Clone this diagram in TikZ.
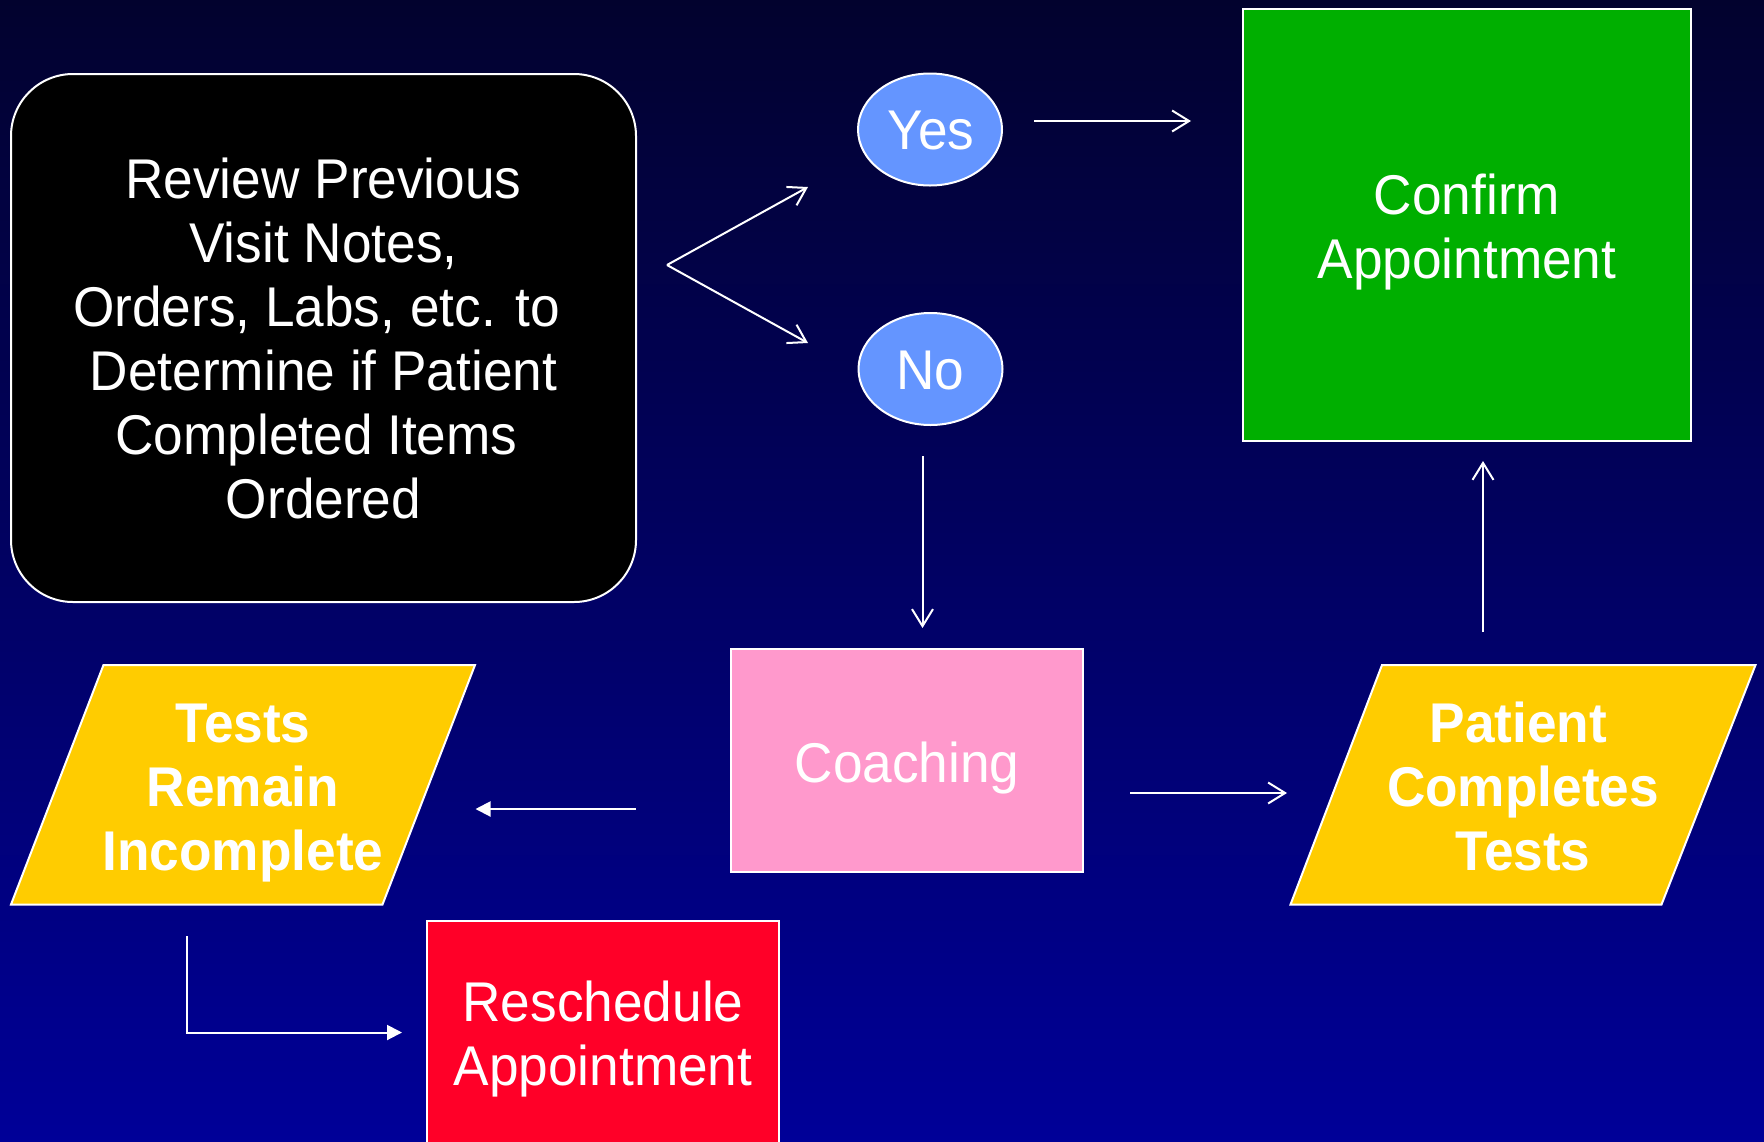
\documentclass[tikz,border=0pt]{standalone}
\usepackage{fontspec}
\setmainfont[FakeStretch=0.95]{Liberation Sans}
\usetikzlibrary{arrows.meta,shapes.geometric}
\definecolor{bgtop}{RGB}{2,2,46}
\definecolor{bgbot}{RGB}{0,0,152}
\definecolor{ellfill}{RGB}{100,149,255}
\definecolor{boxgreen}{RGB}{0,175,0}
\definecolor{boxpink}{RGB}{255,153,204}
\definecolor{boxyellow}{RGB}{255,204,0}
\definecolor{boxred}{RGB}{255,0,40}
\begin{document}
\begin{tikzpicture}[x=1pt,y=-1pt,
  txt/.style={text=white,font=\fontsize{56}{64}\selectfont,align=center},
  btxt/.style={text=white,font=\fontsize{56}{64}\selectfont\bfseries,align=center},
  bord/.style={draw=white,line width=2pt},
  openarr/.style={draw=white,line width=2pt,-{Straight Barb[length=17pt,width=21pt,line width=2pt]}},
  fillarr/.style={draw=white,line width=2pt,-{Triangle[length=15pt,width=15pt]}}]
\useasboundingbox (0,0) rectangle (1764,1141);
\clip (0,0) rectangle (1764,1141);
\shade[top color=bgtop,bottom color=bgbot] (0,0) rectangle (1764,1141);

% review box
\node[bord,fill=black,rounded corners=62pt,minimum width=625pt,minimum height=528pt,txt] (review) at (323.5,338)
  {Review Previous\\Visit Notes,\\Orders, Labs, etc. to\kern14pt\\Determine if Patient\\Completed Items\kern14pt\\Ordered};

% yes / no
\node[ellipse,bord,fill=ellfill,minimum width=144pt,minimum height=112pt,inner sep=0pt] (yes) at (930,129.5) {};
\node[txt] (yestxt) at (931,131) {Yes};
\node[ellipse,bord,fill=ellfill,minimum width=144pt,minimum height=112pt,inner sep=0pt] (no) at (930.5,369) {};
\node[txt] (notxt) at (930.5,371) {No};

% confirm
\node[rectangle,bord,fill=boxgreen,minimum width=448pt,minimum height=432pt] (confirm) at (1467,225) {};
\node[txt] (confirmtxt) at (1467,232) {Confirm\\Appointment};

% coaching
\node[rectangle,bord,fill=boxpink,minimum width=352pt,minimum height=223pt] (coach) at (907,760.5) {};
\node[txt] (coachtxt) at (907,768.5) {Coaching};

% reschedule
\node[rectangle,bord,fill=boxred,minimum width=352pt,minimum height=226pt] (resched) at (603,1033.5) {};
\node[txt] (reschedtxt) at (603,1039.5) {Reschedule\\Appointment};

% parallelograms
\coordinate (tl1) at (103.5,665); \coordinate (tr1) at (475,665);
\coordinate (br1) at (382.5,904.5); \coordinate (bl1) at (11,904.5);
\draw[bord,fill=boxyellow] (tl1) -- (tr1) -- (br1) -- (bl1) -- cycle;
\node[btxt] (remain) at (243,793) {Tests\\Remain\\Incomplete};

\coordinate (tl2) at (1382,665); \coordinate (tr2) at (1755.5,665);
\coordinate (br2) at (1661.5,904.5); \coordinate (bl2) at (1290.5,904.5);
\draw[bord,fill=boxyellow] (tl2) -- (tr2) -- (br2) -- (bl2) -- cycle;
\node[btxt] (completes) at (1523,786.5) {Patient\kern9pt\\Completes\\Tests};

% connectors
\coordinate (fork) at (667,265);
\coordinate (forkyes) at (808,187);
\coordinate (forkno) at (808,343);
\draw[openarr] (fork) -- (forkyes);
\draw[openarr] (fork) -- (forkno);

\coordinate (ya) at (1034,121); \coordinate (yb) at (1191,121);
\draw[openarr] (ya) -- (yb);

\coordinate (na) at (922.5,456); \coordinate (nb) at (922.5,628);
\draw[openarr] (na) -- (nb);

\coordinate (ca) at (636,809); \coordinate (cb) at (475.5,809);
\draw[fillarr] (ca) -- (cb);

\coordinate (pa) at (1130,793); \coordinate (pb) at (1287,793);
\draw[openarr] (pa) -- (pb);

\coordinate (ua) at (1483,632); \coordinate (ub) at (1483,461);
\draw[openarr] (ua) -- (ub);

\coordinate (ea) at (187,936); \coordinate (eb) at (402,1032.5);
\draw[fillarr] (ea) |- (eb);
\end{tikzpicture}
\end{document}
